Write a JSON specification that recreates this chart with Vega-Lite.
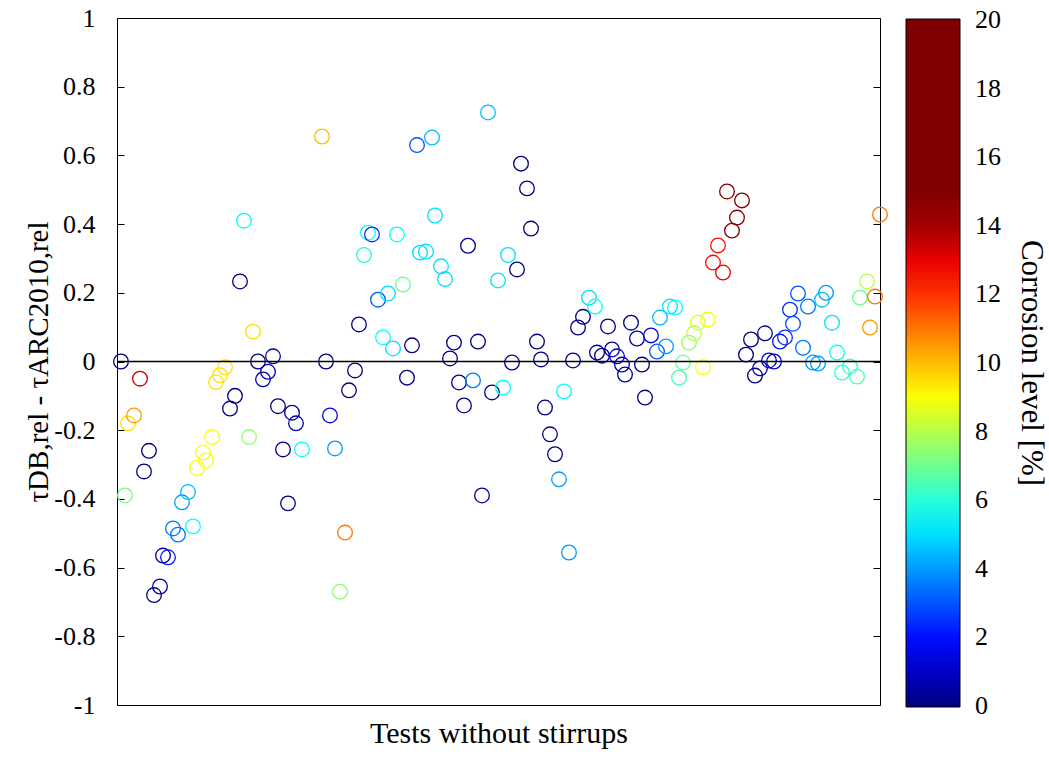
{
  "$schema": "https://vega.github.io/schema/vega-lite/v6.json",
  "width": 763,
  "height": 687,
  "autosize": {"type": "none"},
  "padding": {"left": 117, "top": 18, "right": 169, "bottom": 52},
  "background": "white",
  "config": {
    "view": {"stroke": "black", "strokeWidth": 1},
    "font": "Liberation Serif",
    "axis": {"grid": false, "labelColor": "black", "titleColor": "black", "tickColor": "black", "domainColor": "black", "titleFontWeight": "normal", "labelFont": "Liberation Serif", "titleFont": "Liberation Serif"}
  },
  "layer": [
    {
      "data": {"values": [
        {"test":1.0,"dev":0.00,"corr":0},
        {"test":2.0,"dev":-0.39,"corr":7},
        {"test":2.75,"dev":-0.18,"corr":9.5},
        {"test":4.25,"dev":-0.157,"corr":10.5},
        {"test":5.75,"dev":-0.05,"corr":13.5},
        {"test":6.75,"dev":-0.32,"corr":0},
        {"test":8.0,"dev":-0.26,"corr":0},
        {"test":9.25,"dev":-0.68,"corr":0},
        {"test":10.75,"dev":-0.655,"corr":0.5},
        {"test":11.5,"dev":-0.565,"corr":0.5},
        {"test":12.75,"dev":-0.57,"corr":2},
        {"test":14.0,"dev":-0.486,"corr":3.5},
        {"test":15.25,"dev":-0.504,"corr":3.5},
        {"test":16.25,"dev":-0.41,"corr":4},
        {"test":17.75,"dev":-0.38,"corr":4.5},
        {"test":19.0,"dev":-0.48,"corr":5.5},
        {"test":20.0,"dev":-0.31,"corr":9},
        {"test":21.5,"dev":-0.265,"corr":9},
        {"test":22.25,"dev":-0.288,"corr":9},
        {"test":23.75,"dev":-0.22,"corr":9},
        {"test":24.75,"dev":-0.06,"corr":9.5},
        {"test":25.75,"dev":-0.04,"corr":9.5},
        {"test":27.0,"dev":-0.017,"corr":9.5},
        {"test":28.25,"dev":-0.137,"corr":0},
        {"test":29.5,"dev":-0.10,"corr":0},
        {"test":30.75,"dev":0.233,"corr":0},
        {"test":31.75,"dev":0.41,"corr":5.5},
        {"test":33.0,"dev":-0.22,"corr":7.5},
        {"test":34.0,"dev":0.087,"corr":9.5},
        {"test":35.25,"dev":0.0,"corr":0},
        {"test":36.5,"dev":-0.052,"corr":0.5},
        {"test":37.75,"dev":-0.03,"corr":1},
        {"test":39.0,"dev":0.015,"corr":0.5},
        {"test":40.25,"dev":-0.13,"corr":0},
        {"test":41.5,"dev":-0.256,"corr":0},
        {"test":42.75,"dev":-0.413,"corr":0},
        {"test":43.75,"dev":-0.149,"corr":0.5},
        {"test":44.75,"dev":-0.18,"corr":0.5},
        {"test":46.25,"dev":-0.256,"corr":5.5},
        {"test":51.25,"dev":0.655,"corr":10},
        {"test":52.25,"dev":0.0,"corr":0},
        {"test":53.25,"dev":-0.157,"corr":1.5},
        {"test":54.5,"dev":-0.253,"corr":4},
        {"test":55.75,"dev":-0.67,"corr":7.5},
        {"test":57.0,"dev":-0.498,"corr":11},
        {"test":58.0,"dev":-0.084,"corr":0},
        {"test":59.5,"dev":-0.026,"corr":0},
        {"test":60.5,"dev":0.108,"corr":0},
        {"test":61.75,"dev":0.31,"corr":6},
        {"test":62.75,"dev":0.375,"corr":5.5},
        {"test":63.75,"dev":0.37,"corr":2.5},
        {"test":65.25,"dev":0.18,"corr":3},
        {"test":66.5,"dev":0.07,"corr":5.5},
        {"test":67.75,"dev":0.198,"corr":5},
        {"test":69.0,"dev":0.038,"corr":5},
        {"test":70.0,"dev":0.37,"corr":5.5},
        {"test":71.5,"dev":0.224,"corr":7},
        {"test":72.5,"dev":-0.047,"corr":0},
        {"test":73.75,"dev":0.047,"corr":0},
        {"test":75.0,"dev":0.63,"corr":3},
        {"test":75.75,"dev":0.317,"corr":5},
        {"test":77.25,"dev":0.32,"corr":5},
        {"test":78.75,"dev":0.652,"corr":4.5},
        {"test":79.5,"dev":0.425,"corr":5},
        {"test":81.0,"dev":0.277,"corr":5},
        {"test":82.0,"dev":0.24,"corr":5},
        {"test":83.25,"dev":0.009,"corr":0},
        {"test":84.25,"dev":0.055,"corr":0},
        {"test":85.5,"dev":-0.061,"corr":0},
        {"test":86.75,"dev":-0.128,"corr":0},
        {"test":87.75,"dev":0.337,"corr":0.5},
        {"test":89.0,"dev":-0.055,"corr":3.5},
        {"test":90.25,"dev":0.058,"corr":0},
        {"test":91.25,"dev":-0.39,"corr":0.5},
        {"test":92.75,"dev":0.725,"corr":4.5},
        {"test":93.75,"dev":-0.09,"corr":0},
        {"test":95.25,"dev":0.236,"corr":5},
        {"test":96.5,"dev":-0.076,"corr":5.5},
        {"test":97.75,"dev":0.31,"corr":5},
        {"test":98.75,"dev":-0.003,"corr":0},
        {"test":100.0,"dev":0.268,"corr":0},
        {"test":101.0,"dev":0.576,"corr":0},
        {"test":102.5,"dev":0.504,"corr":0},
        {"test":103.5,"dev":0.387,"corr":0},
        {"test":105.0,"dev":0.058,"corr":0},
        {"test":106.0,"dev":0.006,"corr":0},
        {"test":107.0,"dev":-0.134,"corr":0},
        {"test":108.25,"dev":-0.212,"corr":0},
        {"test":109.5,"dev":-0.27,"corr":0},
        {"test":110.5,"dev":-0.343,"corr":4},
        {"test":111.75,"dev":-0.087,"corr":5.5},
        {"test":113.0,"dev":-0.556,"corr":4},
        {"test":114.0,"dev":0.003,"corr":0},
        {"test":115.25,"dev":0.099,"corr":0},
        {"test":116.5,"dev":0.13,"corr":0},
        {"test":118.0,"dev":0.186,"corr":5},
        {"test":119.5,"dev":0.16,"corr":5.5},
        {"test":120.0,"dev":0.026,"corr":0},
        {"test":121.25,"dev":0.017,"corr":0.5},
        {"test":122.75,"dev":0.102,"corr":0},
        {"test":123.75,"dev":0.035,"corr":0.5},
        {"test":125.0,"dev":0.015,"corr":1},
        {"test":126.25,"dev":-0.009,"corr":1},
        {"test":127.0,"dev":-0.038,"corr":0.5},
        {"test":128.5,"dev":0.113,"corr":0},
        {"test":130.0,"dev":0.067,"corr":0.5},
        {"test":131.25,"dev":-0.009,"corr":0},
        {"test":132.0,"dev":-0.105,"corr":0},
        {"test":133.5,"dev":0.076,"corr":1.5},
        {"test":135.0,"dev":0.029,"corr":3},
        {"test":135.75,"dev":0.128,"corr":4.5},
        {"test":137.25,"dev":0.044,"corr":4},
        {"test":138.25,"dev":0.16,"corr":5},
        {"test":139.5,"dev":0.157,"corr":5.5},
        {"test":140.5,"dev":-0.047,"corr":6.5},
        {"test":141.5,"dev":-0.003,"corr":7},
        {"test":143.0,"dev":0.055,"corr":7.5},
        {"test":144.25,"dev":0.082,"corr":8},
        {"test":145.25,"dev":0.113,"corr":8.5},
        {"test":146.5,"dev":-0.017,"corr":9},
        {"test":147.75,"dev":0.122,"corr":9},
        {"test":149.0,"dev":0.288,"corr":12.5},
        {"test":150.25,"dev":0.338,"corr":12.5},
        {"test":151.5,"dev":0.259,"corr":13},
        {"test":152.5,"dev":0.495,"corr":14.5},
        {"test":153.75,"dev":0.381,"corr":14.5},
        {"test":155.0,"dev":0.419,"corr":14.5},
        {"test":156.25,"dev":0.469,"corr":14.5},
        {"test":157.25,"dev":0.02,"corr":0},
        {"test":158.5,"dev":0.064,"corr":0},
        {"test":159.5,"dev":-0.041,"corr":0},
        {"test":160.75,"dev":-0.02,"corr":0.5},
        {"test":162.0,"dev":0.082,"corr":0},
        {"test":163.0,"dev":0.003,"corr":1},
        {"test":164.25,"dev":0.0,"corr":1},
        {"test":165.75,"dev":0.058,"corr":2},
        {"test":167.0,"dev":0.07,"corr":2.5},
        {"test":168.25,"dev":0.151,"corr":2.5},
        {"test":169.0,"dev":0.11,"corr":3},
        {"test":170.25,"dev":0.198,"corr":3},
        {"test":171.5,"dev":0.04,"corr":3.5},
        {"test":172.75,"dev":0.16,"corr":3.5},
        {"test":174.0,"dev":-0.003,"corr":4},
        {"test":175.25,"dev":-0.006,"corr":4},
        {"test":176.25,"dev":0.18,"corr":4.5},
        {"test":177.25,"dev":0.2,"corr":4},
        {"test":178.75,"dev":0.113,"corr":5},
        {"test":180.0,"dev":0.026,"corr":5.5},
        {"test":181.25,"dev":-0.032,"corr":6},
        {"test":183.25,"dev":-0.015,"corr":6},
        {"test":185.0,"dev":-0.044,"corr":6.5},
        {"test":185.75,"dev":0.186,"corr":7},
        {"test":187.5,"dev":0.233,"corr":8},
        {"test":188.25,"dev":0.099,"corr":10.5},
        {"test":189.5,"dev":0.189,"corr":11},
        {"test":190.75,"dev":0.428,"corr":11}
      ]},
      "mark": {"type": "point", "shape": "circle", "filled": false, "size": 215, "strokeWidth": 1.3, "opacity": 1},
      "encoding": {
        "x": {"field": "test", "type": "quantitative", "scale": {"domain": [0, 190.75], "nice": false, "zero": false},
              "axis": {"labels": false, "ticks": false, "domain": false, "title": "Tests without stirrups", "titleFontSize": 30, "titlePadding": 13}},
        "y": {"field": "dev", "type": "quantitative", "scale": {"domain": [-1, 1], "nice": false},
              "axis": {"orient": "left", "values": [-1, -0.8, -0.6, -0.4, -0.2, 0, 0.2, 0.4, 0.6, 0.8, 1], "labelExpr": "'' + datum.value",
                       "labelFontSize": 26, "tickSize": -7, "labelPadding": 29, "domain": false,
                       "title": "τDB,rel - τARC2010,rel", "titleFontSize": 29, "titlePadding": 0}},
        "color": {"field": "corr", "type": "quantitative",
                  "scale": {"domain": [-0.03, 1.81, 5.44, 9.06, 12.69, 14.5, 20.03], "range": ["#00007F", "#0000FF", "#00FFFF", "#FFFF00", "#FF0000", "#7F0000", "#7F0000"], "interpolate": "rgb"},
                  "legend": {"orient": "none", "legendX": 789, "legendY": 1, "direction": "vertical", "gradientLength": 688, "gradientThickness": 54,
                             "gradientStrokeColor": "black", "gradientStrokeWidth": 1, "values": [0, 2, 4, 6, 8, 10, 12, 14, 16, 18, 20],
                             "labelFont": "Liberation Serif", "labelFontSize": 26, "labelColor": "black", "labelOffset": 15, "labelBaseline": "middle", "labelOverlap": false,
                             "title": "Corrosion level [%]", "titleOrient": "right", "titleAngle": 270, "titleAnchor": "middle", "titleFontSize": 31, "titleLimit": 600,
                             "titleFontWeight": "normal", "titleFont": "Liberation Serif", "titleColor": "black", "titlePadding": 14}}
      }
    },
    {
      "data": {"values": [{"level": 0}]},
      "mark": {"type": "rule", "color": "black", "strokeWidth": 1.6},
      "encoding": {
        "y": {"field": "level", "type": "quantitative", "scale": {"domain": [-1, 1], "nice": false},
              "axis": {"orient": "right", "values": [-1, -0.8, -0.6, -0.4, -0.2, 0, 0.2, 0.4, 0.6, 0.8, 1], "labels": false, "tickSize": -7, "domain": false, "title": null}}
      }
    }
  ],
  "resolve": {"axis": {"y": "independent"}}
}
